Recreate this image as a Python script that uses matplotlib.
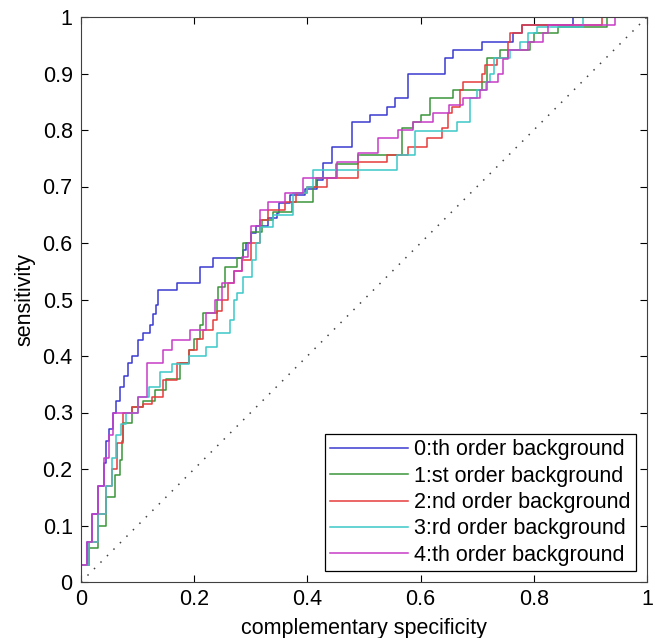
import matplotlib.pyplot as plt

plt.rcParams['font.family'] = ['Liberation Sans', 'DejaVu Sans']

# ROC curves (false positive rate, true positive rate)
fpr0 = [0, 0.01, 0.02, 0.03, 0.04, 0.045, 0.05, 0.056, 0.062, 0.069, 0.076, 0.083, 0.09, 0.1, 0.11,
        0.122, 0.128, 0.132, 0.136, 0.17, 0.21, 0.233, 0.286, 0.292, 0.30, 0.31, 0.33, 0.346, 0.35,
        0.37, 0.395, 0.417, 0.428, 0.443, 0.478, 0.51, 0.54, 0.555, 0.578, 0.643, 0.657, 0.708,
        0.763, 0.78, 0.87, 1.0]
tpr0 = [0.03, 0.07, 0.12, 0.17, 0.21, 0.25, 0.27, 0.30, 0.32, 0.345, 0.365, 0.388, 0.40, 0.428, 0.44,
        0.455, 0.475, 0.49, 0.517, 0.529, 0.558, 0.573, 0.588, 0.60, 0.618, 0.63, 0.645, 0.653, 0.671,
        0.685, 0.695, 0.712, 0.742, 0.77, 0.814, 0.827, 0.841, 0.857, 0.90, 0.927, 0.942, 0.956,
        0.972, 0.986, 1.0, 1.0]

fpr1 = [0, 0.015, 0.03, 0.045, 0.06, 0.069, 0.072, 0.075, 0.09, 0.11, 0.13, 0.15, 0.175, 0.19, 0.2,
        0.21, 0.215, 0.24, 0.242, 0.254, 0.275, 0.286, 0.30, 0.32, 0.34, 0.373, 0.41, 0.415, 0.45,
        0.49, 0.567, 0.587, 0.60, 0.617, 0.657, 0.708, 0.717, 0.74, 0.793, 0.80, 0.843, 0.93, 1.0]
tpr1 = [0.03, 0.06, 0.10, 0.15, 0.19, 0.216, 0.25, 0.281, 0.31, 0.32, 0.34, 0.36, 0.388, 0.41, 0.43,
        0.455, 0.476, 0.5, 0.522, 0.558, 0.573, 0.60, 0.62, 0.64, 0.655, 0.673, 0.70, 0.715, 0.74,
        0.756, 0.804, 0.814, 0.827, 0.857, 0.871, 0.885, 0.927, 0.942, 0.956, 0.972, 0.982, 1.0, 1.0]

fpr2 = [0, 0.015, 0.03, 0.045, 0.055, 0.064, 0.075, 0.09, 0.11, 0.125, 0.145, 0.17, 0.19, 0.205,
        0.216, 0.233, 0.24, 0.249, 0.26, 0.27, 0.285, 0.30, 0.316, 0.33, 0.36, 0.38, 0.40, 0.435,
        0.49, 0.54, 0.578, 0.611, 0.638, 0.648, 0.655, 0.67, 0.675, 0.708, 0.714, 0.735, 0.755, 0.758,
        0.78, 0.92, 1.0]
tpr2 = [0.03, 0.07, 0.12, 0.17, 0.20, 0.246, 0.299, 0.31, 0.315, 0.327, 0.357, 0.388, 0.41, 0.43,
        0.446, 0.464, 0.48, 0.5, 0.53, 0.55, 0.57, 0.60, 0.64, 0.658, 0.673, 0.688, 0.70, 0.715,
        0.743, 0.756, 0.77, 0.786, 0.804, 0.83, 0.841, 0.871, 0.885, 0.90, 0.915, 0.927, 0.956, 0.972,
        0.986, 1.0, 1.0]

fpr3 = [0, 0.015, 0.03, 0.045, 0.055, 0.062, 0.07, 0.08, 0.1, 0.12, 0.14, 0.16, 0.19, 0.22, 0.24,
        0.263, 0.27, 0.275, 0.286, 0.302, 0.31, 0.316, 0.34, 0.375, 0.40, 0.41, 0.558, 0.59, 0.664,
        0.687, 0.70, 0.715, 0.723, 0.73, 0.758, 0.776, 0.79, 0.805, 0.887, 1.0]
tpr3 = [0.03, 0.07, 0.12, 0.17, 0.22, 0.26, 0.28, 0.30, 0.327, 0.345, 0.372, 0.385, 0.40, 0.416, 0.44,
        0.464, 0.5, 0.511, 0.54, 0.57, 0.60, 0.628, 0.65, 0.688, 0.70, 0.729, 0.756, 0.798, 0.814,
        0.857, 0.871, 0.885, 0.90, 0.927, 0.942, 0.956, 0.972, 0.982, 1.0, 1.0]

fpr4 = [0, 0.01, 0.02, 0.03, 0.04, 0.05, 0.057, 0.1, 0.117, 0.145, 0.16, 0.193, 0.22, 0.237, 0.25,
        0.27, 0.285, 0.295, 0.30, 0.316, 0.33, 0.36, 0.392, 0.452, 0.49, 0.525, 0.56, 0.587, 0.622,
        0.65, 0.675, 0.705, 0.717, 0.737, 0.745, 0.755, 0.79, 0.816, 0.825, 0.943, 1.0]
tpr4 = [0.03, 0.07, 0.12, 0.17, 0.22, 0.26, 0.299, 0.327, 0.388, 0.41, 0.428, 0.446, 0.476, 0.5, 0.53,
        0.55, 0.575, 0.60, 0.63, 0.658, 0.673, 0.688, 0.715, 0.743, 0.76, 0.786, 0.80, 0.814, 0.83,
        0.845, 0.857, 0.871, 0.885, 0.90, 0.925, 0.942, 0.956, 0.972, 0.986, 1.0, 1.0]

labels = ['0:th order background', '1:st order background', '2:nd order background',
          '3:rd order background', '4:th order background']
colors = ['#3a3ad0', '#3a943a', '#e63c3c', '#3cc8c8', '#c83cc8']

fs = 15.5

fig = plt.figure(figsize=(6.55, 6.38), dpi=100)
ax = fig.add_axes([81 / 655, 1 - 582 / 638, 566 / 655, 565 / 638])

curves = [(fpr0, tpr0), (fpr1, tpr1), (fpr2, tpr2), (fpr3, tpr3), (fpr4, tpr4)]
for (fx, ty), lab, col in zip(curves, labels, colors):
    ax.step(fx, ty, where='post', color=col, linewidth=1.1, label=lab)

# chance line
ax.plot([0, 1], [0, 1], linestyle=(0, (1, 5)), color='#444444', linewidth=1.1)

ax.set_xlim(0, 1)
ax.set_ylim(0, 1)
ax.set_xticks([0, 0.2, 0.4, 0.6, 0.8, 1])
ax.set_xticklabels(['0', '0.2', '0.4', '0.6', '0.8', '1'])
ax.set_yticks([i / 10 for i in range(11)])
ax.set_yticklabels(['0'] + ['%.1f' % (i / 10) for i in range(1, 10)] + ['1'])
ax.tick_params(direction='in', top=True, right=True, length=5, labelsize=fs)
ax.tick_params(axis='x', pad=5)
ax.tick_params(axis='y', pad=6)
for s in ax.spines.values():
    s.set_color('#404040')

ax.set_xlabel('complementary specificity', fontsize=fs, labelpad=6)
ax.set_ylabel('sensitivity', fontsize=fs, labelpad=5)

leg = ax.legend(loc='lower right', fontsize=fs, fancybox=False, framealpha=1,
                edgecolor='black', handlelength=3.6, labelspacing=0.25,
                borderaxespad=0.5, handletextpad=0.3, borderpad=0.25)
leg.get_frame().set_linewidth(0.9)

plt.savefig('out.png', dpi=100)
